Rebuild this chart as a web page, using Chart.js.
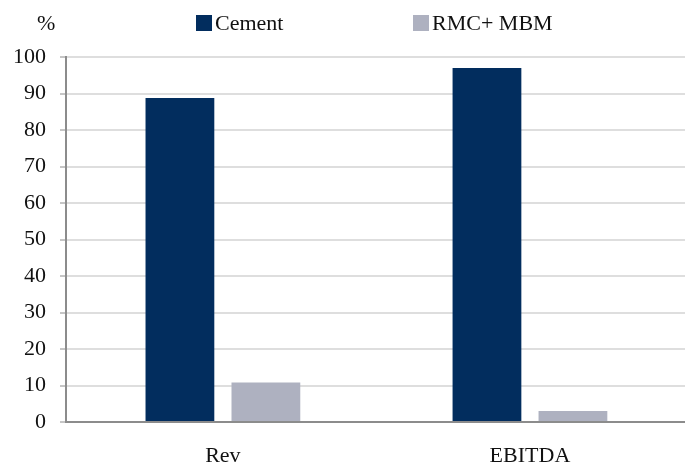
<!DOCTYPE html>
<html>
<head>
<meta charset="utf-8">
<script src="https://cdn.jsdelivr.net/npm/chart.js@4"></script>
<style>
  html, body { margin: 0; padding: 0; background: #fff; }
  #wrap { position: relative; width: 685px; height: 465px; font-family: "Liberation Serif", serif; }
  #chart { display: block; }
  #unit { position: absolute; left: 37px; top: 10px; font-size: 22px; color: #111; }
  .item { position: absolute; top: 10px; font-size: 22px; color: #111; white-space: nowrap; }
  .item span { display: inline-block; width: 16px; height: 16px; margin-right: 3px; vertical-align: -1px; }
</style>
</head>
<body>
<div id="wrap">
  <canvas id="chart" width="685" height="465"></canvas>
  <div id="unit">%</div>
  <div id="legend"></div>
</div>
<script>
const categories = ['Rev', 'EBITDA'];
const seriesNames = ['Cement', 'RMC+ MBM'];
const cement = [88.8, 97.0];
const rmcMbm = [10.8, 3.0];
const seriesColors = ['#022d5e', '#aeb1c0'];
const yTicks = [0, 10, 20, 30, 40, 50, 60, 70, 80, 90, 100];

// legend as html, built from the series arrays
const legendLeft = [196, 413];
const legend = document.getElementById('legend');
seriesNames.forEach((name, i) => {
  const el = document.createElement('div');
  el.className = 'item';
  el.style.left = legendLeft[i] + 'px';
  el.innerHTML = '<span style="background:' + seriesColors[i] + '"></span>' + name;
  legend.appendChild(el);
});

const toPoints = (arr) => arr.map((v, i) => ({ x: i, y: v }));

new Chart(document.getElementById('chart'), {
  type: 'bar',
  data: {
    datasets: [
      { label: seriesNames[0], data: toPoints(cement), backgroundColor: seriesColors[0] },
      { label: seriesNames[1], data: toPoints(rmcMbm), backgroundColor: seriesColors[1] }
    ]
  },
  options: {
    responsive: false,
    animation: false,
    categoryPercentage: 0.56,
    barPercentage: 0.8,
    layout: { padding: { top: 57, right: 0, bottom: 0, left: 0 } },
    plugins: { legend: { display: false }, tooltip: { enabled: false } },
    scales: {
      x: {
        type: 'linear',
        offset: false,
        min: -0.511,
        max: 1.505,
        afterBuildTicks: (axis) => { axis.ticks = categories.map((_, i) => ({ value: i })); },
        afterFit: (axis) => { axis.height = 43; },
        ticks: {
          callback: (v) => categories[v] ?? '',
          padding: 21,
          maxRotation: 0,
          color: '#111',
          font: { family: 'Liberation Serif', size: 22 }
        },
        grid: { display: false, drawTicks: false },
        border: { display: true, color: '#8c8c8c', width: 2 }
      },
      y: {
        min: 0,
        max: 100,
        afterBuildTicks: (axis) => { axis.ticks = yTicks.map(v => ({ value: v })); },
        afterFit: (axis) => { axis.width = 66; },
        ticks: {
          padding: 14,
          color: '#111',
          font: { family: 'Liberation Serif', size: 22 }
        },
        grid: { color: '#dedede', lineWidth: 2, tickLength: 6, tickColor: '#8c8c8c', tickWidth: 1 },
        border: { display: true, color: '#8c8c8c', width: 2 }
      }
    }
  }
});
</script>
</body>
</html>
